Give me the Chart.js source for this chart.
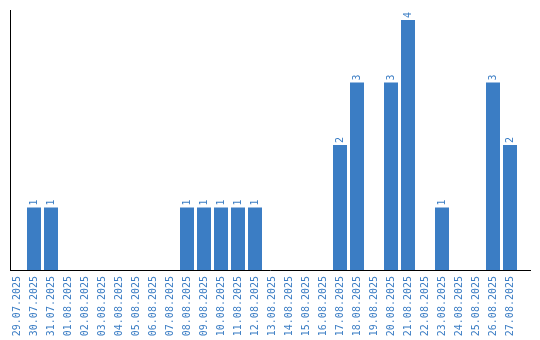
<!DOCTYPE html>
<html><head><meta charset="utf-8">
<script src="https://cdn.jsdelivr.net/npm/chart.js@4"></script>
<style>html,body{margin:0;padding:0;background:#fff;}#wrap{width:540px;height:340px;}</style>
</head><body><div id="wrap"><canvas id="c"></canvas></div>
<script>
const categories = ["29.07.2025","30.07.2025","31.07.2025","01.08.2025","02.08.2025","03.08.2025","04.08.2025","05.08.2025","06.08.2025","07.08.2025","08.08.2025","09.08.2025","10.08.2025","11.08.2025","12.08.2025","13.08.2025","14.08.2025","15.08.2025","16.08.2025","17.08.2025","18.08.2025","19.08.2025","20.08.2025","21.08.2025","22.08.2025","23.08.2025","24.08.2025","25.08.2025","26.08.2025","27.08.2025"];
const values = [0,1,1,0,0,0,0,0,0,0,1,1,1,1,1,0,0,0,0,2,3,0,3,4,0,1,0,0,3,2];
const blue = '#3b7dc4';
const labelPlugin = {
  id:'vlabels',
  afterDatasetsDraw(chart){
    const ctx = chart.ctx;
    const meta = chart.getDatasetMeta(0);
    const ca = chart.chartArea;
    ctx.save();
    // axis lines
    ctx.strokeStyle = '#000';
    ctx.lineWidth = 1;
    ctx.beginPath();
    ctx.moveTo(10.5, ca.top);
    ctx.lineTo(10.5, ca.bottom + 1);
    ctx.moveTo(10, ca.bottom + 0.5);
    ctx.lineTo(531, ca.bottom + 0.5);
    ctx.stroke();
    ctx.fillStyle = blue;
    ctx.font = '10px "DejaVu Sans Mono"';
    meta.data.forEach((bar,i)=>{
      const v = values[i];
      if(!v) return;
      ctx.save();
      ctx.translate(bar.x, bar.y - 2);
      ctx.rotate(-Math.PI/2);
      ctx.textAlign='left';
      ctx.textBaseline='middle';
      ctx.fillText(String(v),0,0);
      ctx.restore();
    });
    ctx.restore();
  }
};
new Chart(document.getElementById('c'),{
  type:'bar',
  data:{labels:categories,datasets:[{data:values,backgroundColor:blue,borderWidth:0,barPercentage:14/17,categoryPercentage:1}]},
  options:{
    responsive:true,maintainAspectRatio:false,animation:false,
    layout:{padding:{left:8.5,right:21.5,top:10,bottom:0}},
    plugins:{legend:{display:false},tooltip:{enabled:false}},
    scales:{
      x:{grid:{display:false,drawTicks:false},border:{display:false},
         afterFit(s){s.height=70;},
         ticks:{color:blue,font:{family:'"DejaVu Sans Mono"',size:10},minRotation:90,maxRotation:90,autoSkip:false,padding:6}},
      y:{min:0,max:4.16,grid:{display:false,drawTicks:false},border:{display:false},
         afterFit(s){s.width=0;},ticks:{display:false}}
    }
  },
  plugins:[labelPlugin]
});
</script></body></html>
